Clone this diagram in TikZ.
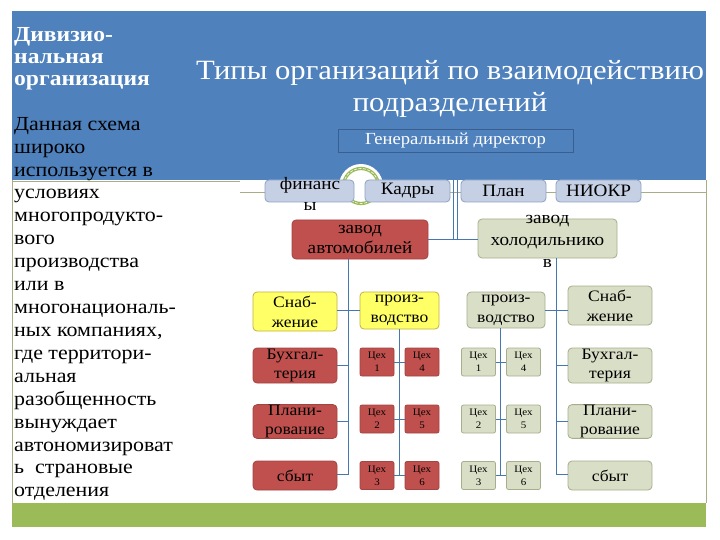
\documentclass[tikz,border=0pt]{standalone}
\usepackage{fontspec}
\setmainfont{Liberation Serif}[FakeStretch=1.1]
\definecolor{hdr}{HTML}{4F81BD}
\definecolor{hdrb}{HTML}{3A5F8E}
\definecolor{redf}{HTML}{C0504D}
\definecolor{redb}{HTML}{A34441}
\definecolor{yelf}{HTML}{FFFF66}
\definecolor{yelb}{HTML}{C2B043}
\definecolor{olvf}{HTML}{D9DEC6}
\definecolor{olvb}{HTML}{A6AE8C}
\definecolor{bluf}{HTML}{C6D0E4}
\definecolor{blub}{HTML}{8EA2C4}
\definecolor{grn}{HTML}{9BBB59}
\definecolor{connc}{HTML}{4677AE}
\definecolor{frmc}{HTML}{A9AD85}
\tikzset{
  box/.style={rounded corners=4bp, line width=0.8bp, inner sep=0pt, align=center, text=black},
  redbox/.style={box, fill=redf, draw=redb},
  yelbox/.style={box, fill=yelf, draw=yelb},
  olvbox/.style={box, fill=olvf, draw=olvb},
  blubox/.style={box, fill=bluf, draw=blub},
  lbl/.style={font=\fontsize{16}{20}\selectfont},
  mid/.style={font=\fontsize{17.5}{21}\selectfont},
  side/.style={minimum width=84bp},
  ceh/.style={minimum width=34bp, minimum height=28bp, rounded corners=2bp, font=\fontsize{10}{13}\selectfont},
  txt/.style={inner sep=0pt, align=center, text=black},
  conn/.style={draw=connc, line width=0.9bp},
  frm/.style={draw=frmc, line width=0.8bp},
}
\begin{document}
\begin{tikzpicture}[x=1bp,y=-1bp]
\useasboundingbox (0,0) rectangle (720,540);
\fill[white] (0,0) rectangle (720,540);
% slide frame
\fill[hdr] (12,11) rectangle (706,180);
\fill[grn] (12,503) rectangle (706,527);
\draw[frm] (12,180) -- (12,503);
\draw[frm] (706,180) -- (706,503);
\draw[frm] (12,181.5) -- (240,181.5);
\draw[frm] (240,192) -- (706,192);
% ring decoration
\fill[white] (361,186) circle (22bp);
\draw[grn, line width=3.2bp] (361,186) circle (17.5bp);
\draw[white, line width=0.6bp, dash pattern=on 3bp off 1.5bp] (361,186) circle (17.5bp);
% title
\node[txt, text=white, font=\fontsize{28}{32}\selectfont] (title) at (450,89) {Типы организаций по взаимодействию\\подразделений};
% left texts
\node[anchor=north west, inner sep=0pt, align=left, text=white, font=\fontsize{21.5}{22}\selectfont\bfseries] (hd) at (14,27) {Дивизио-\\нальная\\организация};
\node[anchor=north west, inner sep=0pt, align=left, text=black, font=\fontsize{20}{23}\selectfont] (body) at (14,117) {Данная схема\\широко\\используется в\\условиях\\многопродукто-\\вого\\производства\\или в\\многонациональ-\\ных компаниях,\\где территори-\\альная\\разобщенность\\вынуждает\\автономизироват\\ь~~страновые\\отделения};
% director
\node[draw=hdrb, fill=hdr, line width=0.8bp, minimum width=235bp, minimum height=23bp, inner sep=0pt, text=white, font=\fontsize{17}{20}\selectfont] (gd) at (455.5,140.5) {Генеральный директор};
% top row
\node[blubox, minimum width=89bp, minimum height=22bp] (fin) at (309.5,191) {};
\node[txt, mid] (finT) at (310,194) {финанс\\ы};
\node[blubox, mid, minimum width=85bp, minimum height=22bp] (kad) at (407.5,191) {Кадры};
\node[blubox, mid, minimum width=85bp, minimum height=22bp] (plan) at (503.5,191) {План};
\node[blubox, mid, minimum width=85bp, minimum height=22bp] (niokr) at (598.5,191) {НИОКР};
% plants
\node[redbox, font=\fontsize{17.5}{21}\selectfont, minimum width=136bp, minimum height=39bp] (zavA) at (360,239.5) {завод\\автомобилей};
\node[olvbox, minimum width=139bp, minimum height=39bp] (zavH) at (547.5,238.5) {};
\node[txt, font=\fontsize{17.5}{22}\selectfont] (zavHT) at (547.5,241) {завод\\холодильнико\\в};
% left branch
\node[yelbox, lbl, side, minimum height=39bp] (snabL) at (295,311.5) {Снаб-\\жение};
\node[yelbox, lbl, minimum width=79bp, minimum height=37bp] (prodL) at (399.5,310.5) {произ-\\водство};
\node[redbox, lbl, side, minimum height=35bp] (buhL) at (295,365.5) {Бухгал-\\терия};
\node[redbox, lbl, side, minimum height=33bp] (planL) at (295,421.5) {Плани-\\рование};
\node[redbox, lbl, side, minimum height=29bp] (sbytL) at (295,475.5) {сбыт};
\node[redbox, ceh] (c1L) at (377,362) {Цех\\1};
\node[redbox, ceh] (c4L) at (422,362) {Цех\\4};
\node[redbox, ceh] (c2L) at (377,419) {Цех\\2};
\node[redbox, ceh] (c5L) at (422,419) {Цех\\5};
\node[redbox, ceh] (c3L) at (377,475.5) {Цех\\3};
\node[redbox, ceh] (c6L) at (422,475.5) {Цех\\6};
% right branch
\node[olvbox, lbl, minimum width=78bp, minimum height=36bp] (prodR) at (506,310) {произ-\\водство};
\node[olvbox, lbl, side, minimum height=39bp] (snabR) at (610,305.5) {Снаб-\\жение};
\node[olvbox, lbl, side, minimum height=35bp] (buhR) at (610,365.5) {Бухгал-\\терия};
\node[olvbox, lbl, side, minimum height=33bp] (planR) at (610,421.5) {Плани-\\рование};
\node[olvbox, lbl, side, minimum height=29bp] (sbytR) at (610,475.5) {сбыт};
\node[olvbox, ceh] (c1R) at (478.5,362) {Цех\\1};
\node[olvbox, ceh] (c4R) at (523.5,362) {Цех\\4};
\node[olvbox, ceh] (c2R) at (478.5,419) {Цех\\2};
\node[olvbox, ceh] (c5R) at (523.5,419) {Цех\\5};
\node[olvbox, ceh] (c3R) at (478.5,475.5) {Цех\\3};
\node[olvbox, ceh] (c6R) at (523.5,475.5) {Цех\\6};
% connectors: top
\coordinate (t1) at (453,180);
\coordinate (t2) at (457,180);
\draw[conn] (t1) -- (t1 |- zavA.east);
\draw[conn] (t2) -- (t2 |- zavA.east);
\draw[conn] (zavA.east) -- (zavA.east -| zavH.west);
% connectors: left
\coordinate (sL) at (348,474);
\draw[conn] (zavA.south -| sL) -- (sL) -- (sL -| sbytL.east);
\draw[conn] (prodL.west -| snabL.east) -- (prodL.west);
\draw[conn] (buhL.east) -- (buhL.east -| sL);
\draw[conn] (planL.east) -- (planL.east -| sL);
\draw[conn] (prodL.south) -- (prodL.south |- c3L.east);
\draw[conn] (c1L.east) -- (c4L.west);
\draw[conn] (c2L.east) -- (c5L.west);
\draw[conn] (c3L.east) -- (c6L.west);
% connectors: right
\coordinate (sR) at (556,474);
\draw[conn] (zavH.south -| sR) -- (sR) -- (sR -| sbytR.west);
\draw[conn] (prodR.east) -- (prodR.east -| snabR.west);
\draw[conn] (buhR.west -| sR) -- (buhR.west);
\draw[conn] (planR.west -| sR) -- (planR.west);
\coordinate (pR) at (500.5,475.5);
\draw[conn] (pR |- prodR.south) -- (pR);
\draw[conn] (c1R.east) -- (c4R.west);
\draw[conn] (c2R.east) -- (c5R.west);
\draw[conn] (c3R.east) -- (c6R.west);
\end{tikzpicture}
\end{document}
